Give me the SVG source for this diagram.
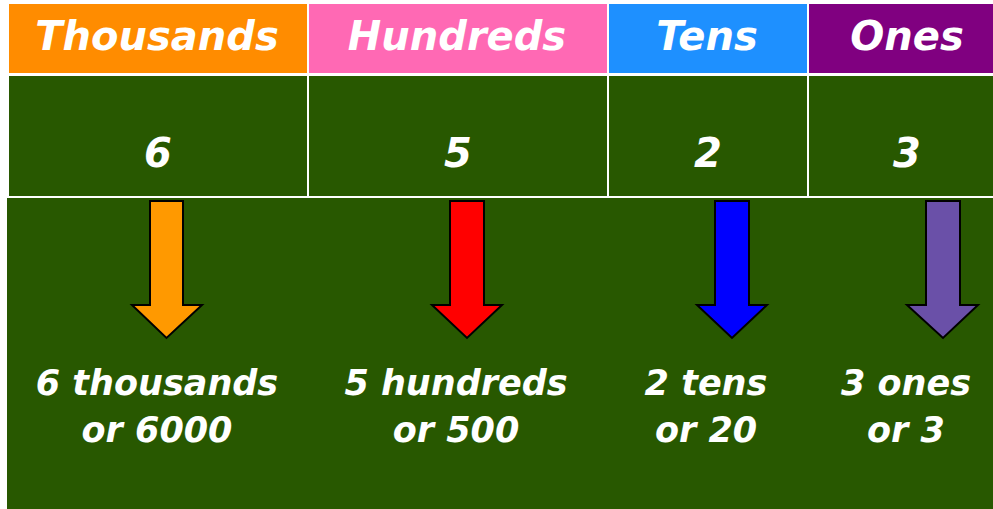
<svg xmlns="http://www.w3.org/2000/svg" width="993" height="509" viewBox="0 0 993 509">
<style>
text{font-family:"DejaVu Sans","Liberation Sans",sans-serif;font-weight:bold;font-style:italic;fill:#fff;text-anchor:middle}
.h{font-size:40px}
.n{font-size:40px}
.b{font-size:35px}
.g{fill:#285800}
.arr{stroke:#000;stroke-width:2;stroke-linejoin:miter}
</style>
<rect width="993" height="509" fill="#fff"/>
<g id="thousands">
<rect x="9" y="4" width="298" height="69" fill="#FF8C00"/>
<text class="h" x="157" y="50">Thousands</text>
<rect class="g" x="9" y="76" width="298" height="120"/>
<text class="n" x="158" y="167">6</text>
</g>
<g id="hundreds">
<rect x="309" y="4" width="298" height="69" fill="#FF69B4"/>
<text class="h" x="457" y="50">Hundreds</text>
<rect class="g" x="309" y="76" width="298" height="120"/>
<text class="n" x="458" y="167">5</text>
</g>
<g id="tens">
<rect x="609" y="4" width="198" height="69" fill="#1E90FF"/>
<text class="h" x="707" y="50">Tens</text>
<rect class="g" x="609" y="76" width="198" height="120"/>
<text class="n" x="708" y="167">2</text>
</g>
<g id="ones">
<rect x="809" y="4" width="184" height="69" fill="#800080"/>
<text class="h" x="907" y="50">Ones</text>
<rect class="g" x="809" y="76" width="184" height="120"/>
<text class="n" x="907" y="167">3</text>
</g>
<g id="values">
<rect class="g" x="7" y="198" width="986" height="311"/>
<text class="b" x="157" y="395">6 thousands</text>
<text class="b" x="157" y="442">or 6000</text>
<text class="b" x="456" y="395">5 hundreds</text>
<text class="b" x="456" y="442">or 500</text>
<text class="b" x="706" y="395">2 tens</text>
<text class="b" x="706" y="442">or 20</text>
<text class="b" x="906" y="395">3 ones</text>
<text class="b" x="906" y="442">or 3</text>
</g>
<g id="connectors">
<polygon class="arr" fill="#FF9900" points="150,201 183,201 183,305 202,305 166.5,338 132,305 150,305"/>
<polygon class="arr" fill="#FF0000" points="450,201 484,201 484,305 502,305 467,338 432,305 450,305"/>
<polygon class="arr" fill="#0000FF" points="715,201 749,201 749,305 767,305 732,338 697,305 715,305"/>
<polygon class="arr" fill="#6A50A8" points="926,201 960,201 960,305 978,305 943,338 907,305 926,305"/>
</g>
</svg>
